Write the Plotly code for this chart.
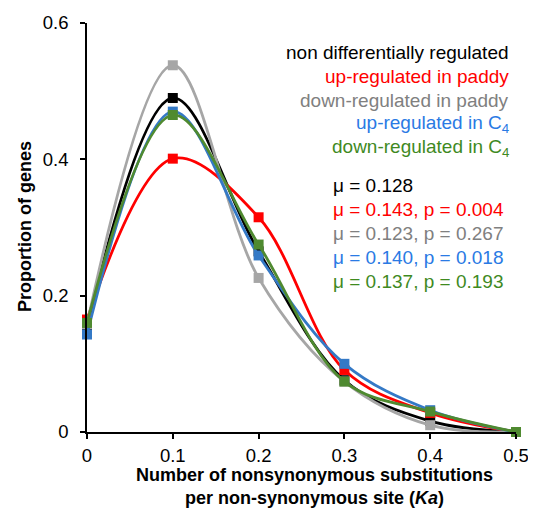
import plotly.graph_objects as go

# Ka bins and proportion of genes per group
ka = [0, 0.1, 0.2, 0.3, 0.4, 0.5]

non_diff = [0.155, 0.490, 0.265, 0.076, 0.016, 0.0]
up_paddy = [0.165, 0.401, 0.315, 0.091, 0.028, 0.0]
down_paddy = [0.158, 0.538, 0.226, 0.074, 0.010, 0.0]
up_c4 = [0.143, 0.470, 0.259, 0.100, 0.032, 0.0]
down_c4 = [0.160, 0.465, 0.275, 0.074, 0.030, 0.0]

labels = [
    "non differentially regulated",
    "up-regulated in paddy",
    "down-regulated in paddy",
    "up-regulated in C<sub>4</sub>",
    "down-regulated in C<sub>4</sub>",
]
stats = [
    "μ = 0.128",
    "μ = 0.143, p = 0.004",
    "μ = 0.123, p = 0.267",
    "μ = 0.140, p = 0.018",
    "μ = 0.137, p = 0.193",
]

line_colors = ["#000000", "#FF0000", "#A6A6A6", "#3479C6", "#4F8A30"]
text_colors = ["#000000", "#FF0000", "#808080", "#2A7AE4", "#3F8A1F"]

series = [non_diff, up_paddy, down_paddy, up_c4, down_c4]

# plot area in window pixels: x 87..516, y 23..432 (page body has an 8px margin)
def px(x):
    return (x - 87) / 429

def py(y):
    return (432 - y) / 409

fig = go.Figure()
for vals, col, name in zip(series, line_colors, labels):
    fig.add_trace(go.Scatter(
        x=ka, y=vals, name=name,
        mode="lines+markers",
        line=dict(color=col, width=2.8, shape="spline", smoothing=1),
        marker=dict(symbol="square", size=10, color=col),
        cliponaxis=False,
    ))

# legend-like text block (right aligned) and stats block
for i, (txt, col) in enumerate(zip(labels, text_colors)):
    fig.add_annotation(
        x=px(511), y=py(52 + i * 24), xref="paper", yref="paper",
        text=txt, showarrow=False, xanchor="right", yanchor="middle",
        font=dict(color=col, size=19),
    )
for i, (txt, col) in enumerate(zip(stats, text_colors)):
    fig.add_annotation(
        x=px(331), y=py(185 + i * 24), xref="paper", yref="paper",
        text=txt, showarrow=False, xanchor="left", yanchor="middle",
        font=dict(color=col, size=19),
    )

# axis titles
fig.add_annotation(
    x=px(314), y=py(487), xref="paper", yref="paper",
    text="<b>Number of nonsynonymous substitutions<br>per non-synonymous site (<i>Ka</i>)</b>",
    showarrow=False, xanchor="center", yanchor="middle", font=dict(size=18),
)
fig.add_annotation(
    x=px(25), y=py(227), xref="paper", yref="paper",
    text="<b>Proportion of genes</b>", textangle=-90,
    showarrow=False, xanchor="center", yanchor="middle", font=dict(size=18),
)

fig.update_layout(
    width=528, height=503,
    margin=dict(l=79, r=20, t=15, b=79),
    plot_bgcolor="white", paper_bgcolor="white",
    showlegend=False,
    font=dict(family="Liberation Sans, Arial", size=18.5, color="black"),
)
fig.update_xaxes(
    range=[0, 0.5], tickvals=ka, ticktext=["0", "0.1", "0.2", "0.3", "0.4", "0.5"],
    showline=True, linecolor="black", linewidth=1.5, automargin=False,
    ticks="outside", ticklen=5, tickcolor="black", tickwidth=1.5,
    ticklabelstandoff=1, showgrid=False, zeroline=False,
)
fig.update_yaxes(
    range=[0, 0.6], tickvals=[0, 0.2, 0.4, 0.6], ticktext=["0", "0.2", "0.4", "0.6"],
    showline=True, linecolor="black", linewidth=1.5, automargin=False,
    ticks="outside", ticklen=5, tickcolor="black", tickwidth=1.5,
    ticklabelstandoff=8, showgrid=False, zeroline=False,
)

fig.write_html("out.html")
